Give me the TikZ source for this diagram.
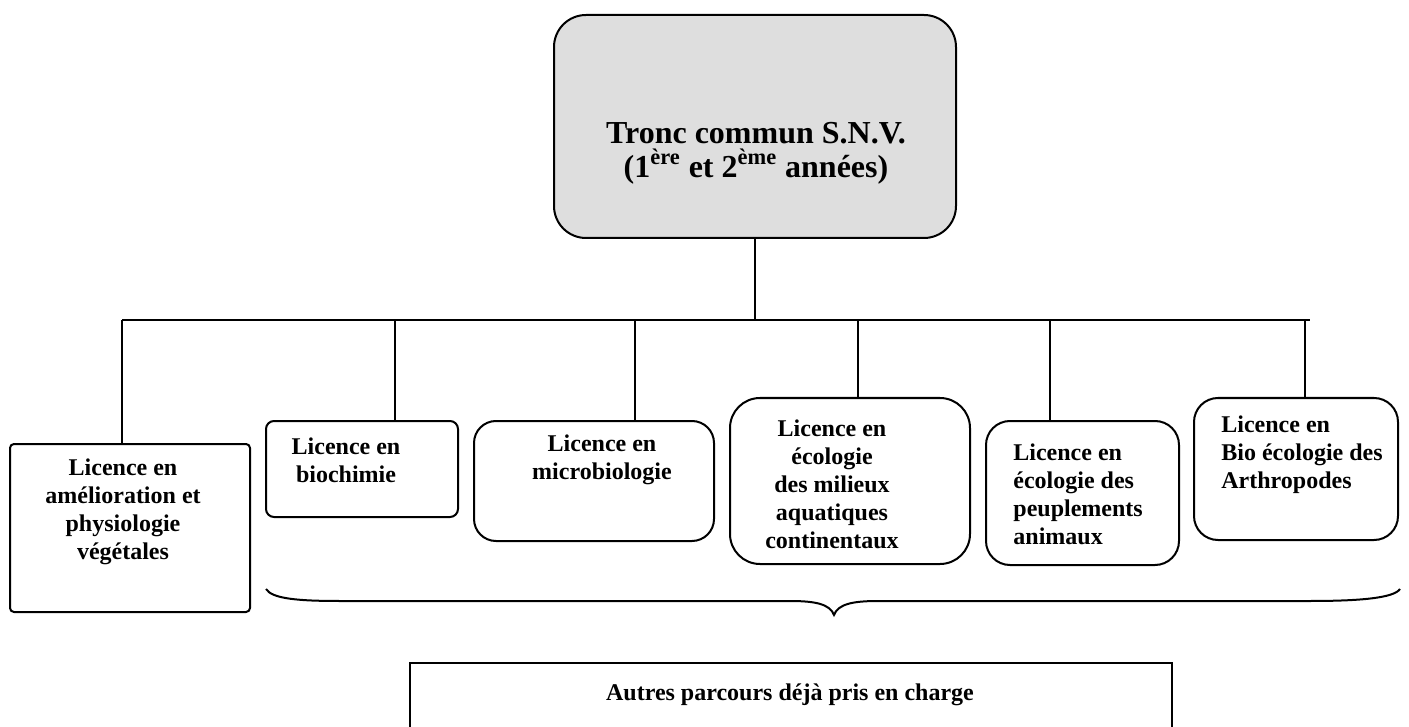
\documentclass[tikz,border=0pt]{standalone}
\usepackage{fontspec}
\setmainfont{Liberation Serif}

\begin{document}
\begin{tikzpicture}[x=0.5pt,y=-0.5pt,
  licbox/.style={draw,line width=1pt,inner sep=0pt},
  lictext/.style={inner sep=0pt,font=\bfseries\fontsize{12}{14}\selectfont},
  link/.style={line width=0.8pt}]
% The frame
\path[use as bounding box,clip] (0,0) rectangle (1409,727);

% The common trunk
\node[licbox,fill=black!13,rounded corners=16pt,minimum width=201pt,minimum height=111.5pt] (tronc) at (755,126.5) {};
\node[lictext,font=\bfseries\fontsize{16}{17}\selectfont,align=center] (tronc text) at (756,153)
  {Tronc commun S.N.V.\\(1\textsuperscript{ère} et 2\textsuperscript{ème} années)};

% The licence boxes
\node[licbox,rounded corners=2pt,minimum width=120pt,minimum height=84pt] (amelio) at (130,528) {};
\node[licbox,rounded corners=4pt,minimum width=96pt,minimum height=48pt] (bio) at (362,469) {};
\node[licbox,rounded corners=11pt,minimum width=120pt,minimum height=60pt] (micro) at (594,481) {};
\node[licbox,rounded corners=15pt,minimum width=120pt,minimum height=83pt] (aqua) at (850,481) {};
\node[licbox,rounded corners=12pt,minimum width=96.5pt,minimum height=72pt] (peup) at (1082.5,493) {};
\node[licbox,rounded corners=12pt,minimum width=102pt,minimum height=71pt] (arthro) at (1296,469) {};

% Their texts
\node[lictext,align=center] (amelio text) at (123,512) {Licence en\\amélioration et\\physiologie\\végétales};
\node[lictext,align=center] (bio text) at (346,460) {Licence en\\biochimie};
\node[lictext,align=center] (micro text) at (602,460) {Licence en\\microbiologie};
\node[lictext,align=center] (aqua text) at (832,484) {Licence en\\écologie\\des milieux\\aquatiques\\continentaux};
\node[lictext,align=left,anchor=west] (peup text) at (1013,494) {Licence en\\écologie des\\peuplements\\animaux};
\node[lictext,align=left,anchor=west] (arthro text) at (1221,455) {Licence en\\Bio écologie des\\Arthropodes};

% The tree lines
\coordinate (barL) at (122,320);
\coordinate (barR) at (1310,320);
\draw[link] (tronc.south) -- (tronc.south |- barL);
\draw[link] (barL) -- (barR);
\foreach \x/\n in {122/amelio,395/bio,635/micro,858/aqua,1050/peup,1305/arthro}
  \draw[link] (\x,320) -- (\x,0 |- \n.north);

% The brace and the other paths
\coordinate (braceL) at (266,589);
\coordinate (braceR) at (1400,589);
\coordinate (braceTip) at (834,615);
\draw[line width=1pt]
  (braceL) .. controls (272,599) and (300,601) .. (340,601)
  -- (790,601) .. controls (815,601) and (830,604) .. (braceTip)
  .. controls (838,604) and (853,601) .. (878,601)
  -- (1310,601) .. controls (1360,601) and (1394,598) .. (braceR);
\node[licbox,minimum width=381pt,minimum height=51pt] (autres) at (791,714) {};
\node[lictext] (autres text) at (790,695) {Autres parcours déjà pris en charge};

\end{tikzpicture}
\end{document}
